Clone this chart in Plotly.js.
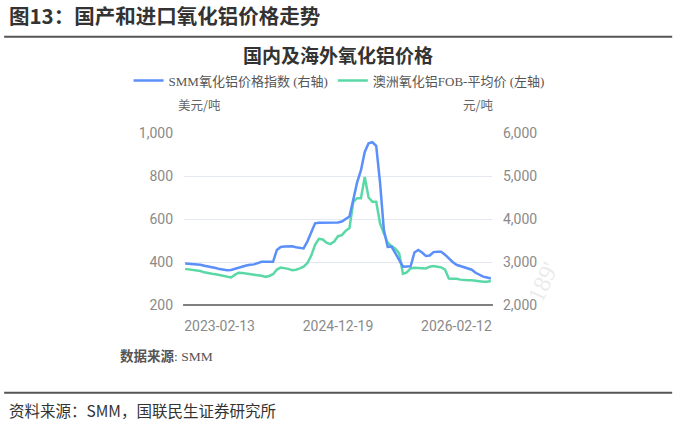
<!DOCTYPE html>
<html>
<head>
<meta charset="utf-8">
<script src="https://cdn.plot.ly/plotly-3.0.1.min.js"></script>
<style>
html,body{margin:0;padding:0;background:#fff;}
#chart{width:677px;height:421px;}
</style>
</head>
<body>
<div id="chart"></div>
<script>
// x positions are trading-point indices; tick labels placed at the indices shown in the reference
const tickIndex = [9, 40, 71];
const tickLabels = ["2023-02-13", "2024-12-19", "2026-02-12"];

// SMM氧化铝价格指数 (元/吨, 右轴)
const smmIndex = [2966,2960,2955,2950,2935,2915,2900,2885,2860,2835,2815,2810,2815,2840,2875,2905,2920,2935,2945,2975,
  3005,3005,3005,3005,3280,3350,3360,3370,3365,3345,3330,3316,3480,3700,3900,3915,3915,3915,3915,3915,
  3920,3940,3990,4060,4450,4850,5130,5560,5760,5785,5700,4850,3750,3350,3360,3220,3050,2890,2895,2900,
  3220,3280,3220,3140,3150,3230,3240,3240,3170,3080,3000,2935,2910,2880,2860,2820,2750,2700,2660,2640,2615];

// 澳洲氧化铝FOB-平均价 (美元/吨, 左轴)
const ausFob = [368,366,364,362,358,352,347,345,343,340,336,332,328,340,350,349,347,345,342,340,
  336,331,335,343,365,374,372,368,362,364,370,378,395,430,480,508,505,490,483,495,
  520,525,545,558,680,697,697,795,700,680,680,580,533,490,474,462,440,345,352,370,
  373,373,373,370,378,381,378,375,365,323,322,322,318,315,315,315,312,310,308,308,312];

const font = "Roboto, 'Noto Sans CJK SC', sans-serif";

const traces = [
  {
    y: smmIndex, yaxis: "y2", type: "scatter", mode: "lines",
    name: "SMM氧化铝价格指数 (右轴)",
    line: {color: "#5B8FF9", width: 2.5}
  },
  {
    y: ausFob, yaxis: "y", type: "scatter", mode: "lines",
    name: "澳洲氧化铝FOB-平均价 (左轴)",
    line: {color: "#5AD8A6", width: 2.5}
  }
];

const layout = {
  width: 677, height: 421,
  paper_bgcolor: "#fff", plot_bgcolor: "#fff",
  margin: {l: 184, r: 185, t: 133, b: 116},
  font: {family: font, color: "#888"},
  title: {
    text: "国内及海外氧化铝价格",
    font: {family: "'Noto Sans CJK SC', sans-serif", size: 19, color: "#333", weight: 700},
    x: 0.5, xanchor: "center", xref: "paper", y: 0.866, yanchor: "middle"
  },
  showlegend: true,
  legend: {
    orientation: "h", x: -0.18, xanchor: "left",
    y: 1.305, yanchor: "middle",
    font: {family: "'Liberation Serif', 'Noto Sans CJK SC', serif", size: 13, color: "#555"},
    tracegroupgap: 0
  },
  xaxis: {
    range: [-0.3, 80.3],
    tickmode: "array", tickvals: tickIndex, ticktext: tickLabels,
    showgrid: false, zeroline: false,
    showline: false, ticks: "",
    tickfont: {size: 14, color: "#8a8a8a"},
    ticklabelstandoff: 11
  },
  yaxis: {
    range: [200, 1000], tickvals: [200, 400, 600, 800, 1000],
    tickformat: ",", showgrid: true, gridcolor: "#e3e8f2", gridwidth: 1,
    zeroline: false, showline: false, ticks: "",
    tickfont: {size: 14, color: "#8a8a8a"},
    ticklabelstandoff: 10
  },
  yaxis2: {
    range: [2000, 6000], tickvals: [2000, 3000, 4000, 5000, 6000],
    tickformat: ",", overlaying: "y", side: "right",
    showgrid: false, zeroline: false, showline: false, ticks: "",
    tickfont: {size: 14, color: "#8a8a8a"},
    ticklabelstandoff: 10
  },
  shapes: [
    {type: "line", xref: "paper", yref: "paper", x0: -0.003, x1: 1.003, y0: 0, y1: 0,
     line: {color: "#555", width: 1.5}},
    {type: "line", xref: "paper", yref: "paper", x0: -0.584, x1: 1.585, y0: 1.56, y1: 1.56,
     line: {color: "#555", width: 2}},
    {type: "line", xref: "paper", yref: "paper", x0: -0.584, x1: 1.585, y0: -0.51, y1: -0.51,
     line: {color: "#555", width: 2}}
  ],
  annotations: [
    {text: "<b>图13：国产和进口氧化铝价格走势</b>", xref: "paper", yref: "paper",
     x: -0.575, xanchor: "left", y: 1.685, yanchor: "middle", showarrow: false,
     font: {family: "'Noto Sans CJK SC', sans-serif", size: 20.5, color: "#333"}},
    {text: "美元/吨", xref: "paper", yref: "paper", x: 0.05, xanchor: "center",
     y: 1.165, yanchor: "middle", showarrow: false,
     font: {family: "'Noto Sans CJK SC', sans-serif", size: 12.5, color: "#666"}},
    {text: "元/吨", xref: "paper", yref: "paper", x: 0.955, xanchor: "center",
     y: 1.165, yanchor: "middle", showarrow: false,
     font: {family: "'Noto Sans CJK SC', sans-serif", size: 12.5, color: "#666"}},
    {text: "<b>数据来源</b>: SMM", xref: "paper", yref: "paper", x: -0.215, xanchor: "left",
     y: -0.295, yanchor: "middle", showarrow: false,
     font: {family: "'Liberation Serif', 'Noto Sans CJK SC', serif", size: 13.5, color: "#555"}},
    {text: "资料来源：SMM，国联民生证券研究所", xref: "paper", yref: "paper", x: -0.575, xanchor: "left",
     y: -0.61, yanchor: "middle", showarrow: false,
     font: {family: "'Noto Sans CJK SC', sans-serif", size: 15.5, color: "#333"}},
    {text: "189'", xref: "paper", yref: "paper", x: 1.24, y: -0.02, showarrow: false, textangle: -65,
     font: {family: "'Liberation Serif', serif", size: 24, color: "#ebebeb"}}
  ]
};

Plotly.newPlot("chart", traces, layout, {displayModeBar: false, staticPlot: true});
</script>
</body>
</html>
